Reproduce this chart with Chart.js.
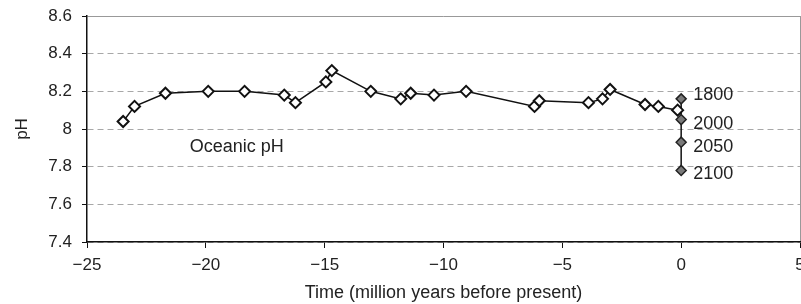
<!DOCTYPE html>
<html>
<head>
<meta charset="utf-8">
<script src="https://cdn.jsdelivr.net/npm/chart.js@4"></script>
<style>
  html, body { margin: 0; padding: 0; background: #fff; }
  #wrap { width: 801px; height: 304px; }
</style>
</head>
<body>
<div id="wrap"><canvas id="c" width="801" height="304"></canvas></div>
<script>
// Geological record (million years before present)
const pastTimes = [-23.48, -23.0, -21.7, -19.9, -18.37, -16.7, -16.23, -14.95, -14.7, -13.06, -11.8, -11.38, -10.4, -9.05, -6.17, -5.97, -3.9, -3.31, -2.99, -1.52, -0.96, -0.15];
const pastPH    = [8.04, 8.12, 8.19, 8.20, 8.20, 8.18, 8.14, 8.25, 8.31, 8.20, 8.16, 8.19, 8.18, 8.20, 8.12, 8.15, 8.14, 8.16, 8.21, 8.13, 8.12, 8.10];
// Recent / projected values (all at time 0)
const yearLabels = ['1800', '2000', '2050', '2100'];
const yearTimes  = [0, 0, 0, 0];
const yearPH     = [8.16, 8.05, 7.93, 7.78];
// Axis ticks
const xTickValues = [-25, -20, -15, -10, -5, 0, 5];
const xTickLabels = ['\u221225', '\u221220', '\u221215', '\u221210', '\u22125', '0', '5'];
const yTickValues = [7.4, 7.6, 7.8, 8.0, 8.2, 8.4, 8.6];
const yTickLabels = ['7.4', '7.6', '7.8', '8', '8.2', '8.4', '8.6'];
const seriesLabel = 'Oceanic pH';

const FONT = "'Liberation Sans', Arial, sans-serif";
const TXT = '#222';

const annotPlugin = {
  id: 'annot',
  afterDatasetsDraw(chart) {
    const ctx = chart.ctx;
    const xs = chart.scales.x, ys = chart.scales.y;
    ctx.save();
    ctx.fillStyle = TXT;
    ctx.font = '18px ' + FONT;
    ctx.textBaseline = 'middle';
    ctx.textAlign = 'left';
    ctx.fillText(seriesLabel, xs.getPixelForValue(-20.68), ys.getPixelForValue(7.905));
    const meta = chart.getDatasetMeta(1);
    const dy = [-4, 4, 5, 4];
    meta.data.forEach((pt, i) => {
      ctx.fillText(yearLabels[i], pt.x + 12, pt.y + dy[i]);
    });
    ctx.restore();
  }
};

new Chart(document.getElementById('c'), {
  type: 'scatter',
  data: {
    datasets: [
      {
        label: seriesLabel,
        data: pastTimes.map((t, i) => ({ x: t, y: pastPH[i] })),
        showLine: true,
        borderColor: '#111',
        borderWidth: 1.5,
        pointStyle: 'rectRot',
        pointRadius: 5.5,
        pointBackgroundColor: '#fff',
        pointBorderColor: '#111',
        pointBorderWidth: 2
      },
      {
        label: 'Years',
        data: yearTimes.map((t, i) => ({ x: t, y: yearPH[i] })),
        showLine: true,
        borderColor: '#111',
        borderWidth: 1.5,
        pointStyle: 'rectRot',
        pointRadius: 5,
        pointBackgroundColor: '#7a7a7a',
        pointBorderColor: '#222',
        pointBorderWidth: 1.5
      }
    ]
  },
  options: {
    responsive: false,
    animation: false,
    devicePixelRatio: 1,
    layout: { autoPadding: false, padding: { top: 16, right: 1, left: 0, bottom: 0 } },
    plugins: { legend: { display: false }, tooltip: { enabled: false } },
    scales: {
      x: {
        type: 'linear',
        min: -25, max: 5,
        afterBuildTicks: s => { s.ticks = xTickValues.map(v => ({ value: v })); },
        afterFit: s => { s.height = 62; s.paddingLeft = 0; s.paddingRight = 0; },
        ticks: {
          callback: v => { const i = xTickValues.indexOf(v); return i >= 0 ? xTickLabels[i] : ''; },
          font: { family: FONT, size: 17 },
          color: TXT,
          padding: 7,
          maxRotation: 0,
          autoSkip: false
        },
        grid: {
          drawOnChartArea: true,
          color: ctx => (ctx.tick && ctx.tick.value === 5) ? '#999' : 'rgba(0,0,0,0)',
          tickColor: '#111',
          tickLength: 6,
          lineWidth: 1
        },
        border: { color: '#111', width: 1.5 },
        title: {
          display: true,
          text: 'Time (million years before present)',
          font: { family: FONT, size: 18 },
          color: TXT,
          padding: { top: 0, bottom: 0 }
        }
      },
      y: {
        type: 'linear',
        min: 7.4, max: 8.6,
        afterBuildTicks: s => { s.ticks = yTickValues.map(v => ({ value: v })); },
        afterFit: s => { s.width = 87; s.paddingTop = 0; s.paddingBottom = 0; },
        ticks: {
          callback: v => { const i = yTickValues.findIndex(t => Math.abs(t - v) < 1e-9); return i >= 0 ? yTickLabels[i] : ''; },
          font: { family: FONT, size: 17 },
          color: TXT,
          padding: 10,
          autoSkip: false
        },
        grid: {
          color: ctx => (ctx.tick && Math.abs(ctx.tick.value - 8.6) < 1e-9) ? '#999' : '#a8a8a8',
          tickColor: '#111',
          tickLength: 5,
          tickBorderDash: [],
          lineWidth: 1
        },
        border: {
          color: '#111',
          width: 1.5,
          dash: ctx => (ctx.tick && Math.abs(ctx.tick.value - 8.6) < 1e-9) ? [] : [6, 4]
        },
        title: {
          display: true,
          text: 'pH',
          font: { family: FONT, size: 17 },
          color: TXT,
          padding: { top: 12, bottom: 0 }
        }
      }
    }
  },
  plugins: [annotPlugin]
});
</script>
</body>
</html>
